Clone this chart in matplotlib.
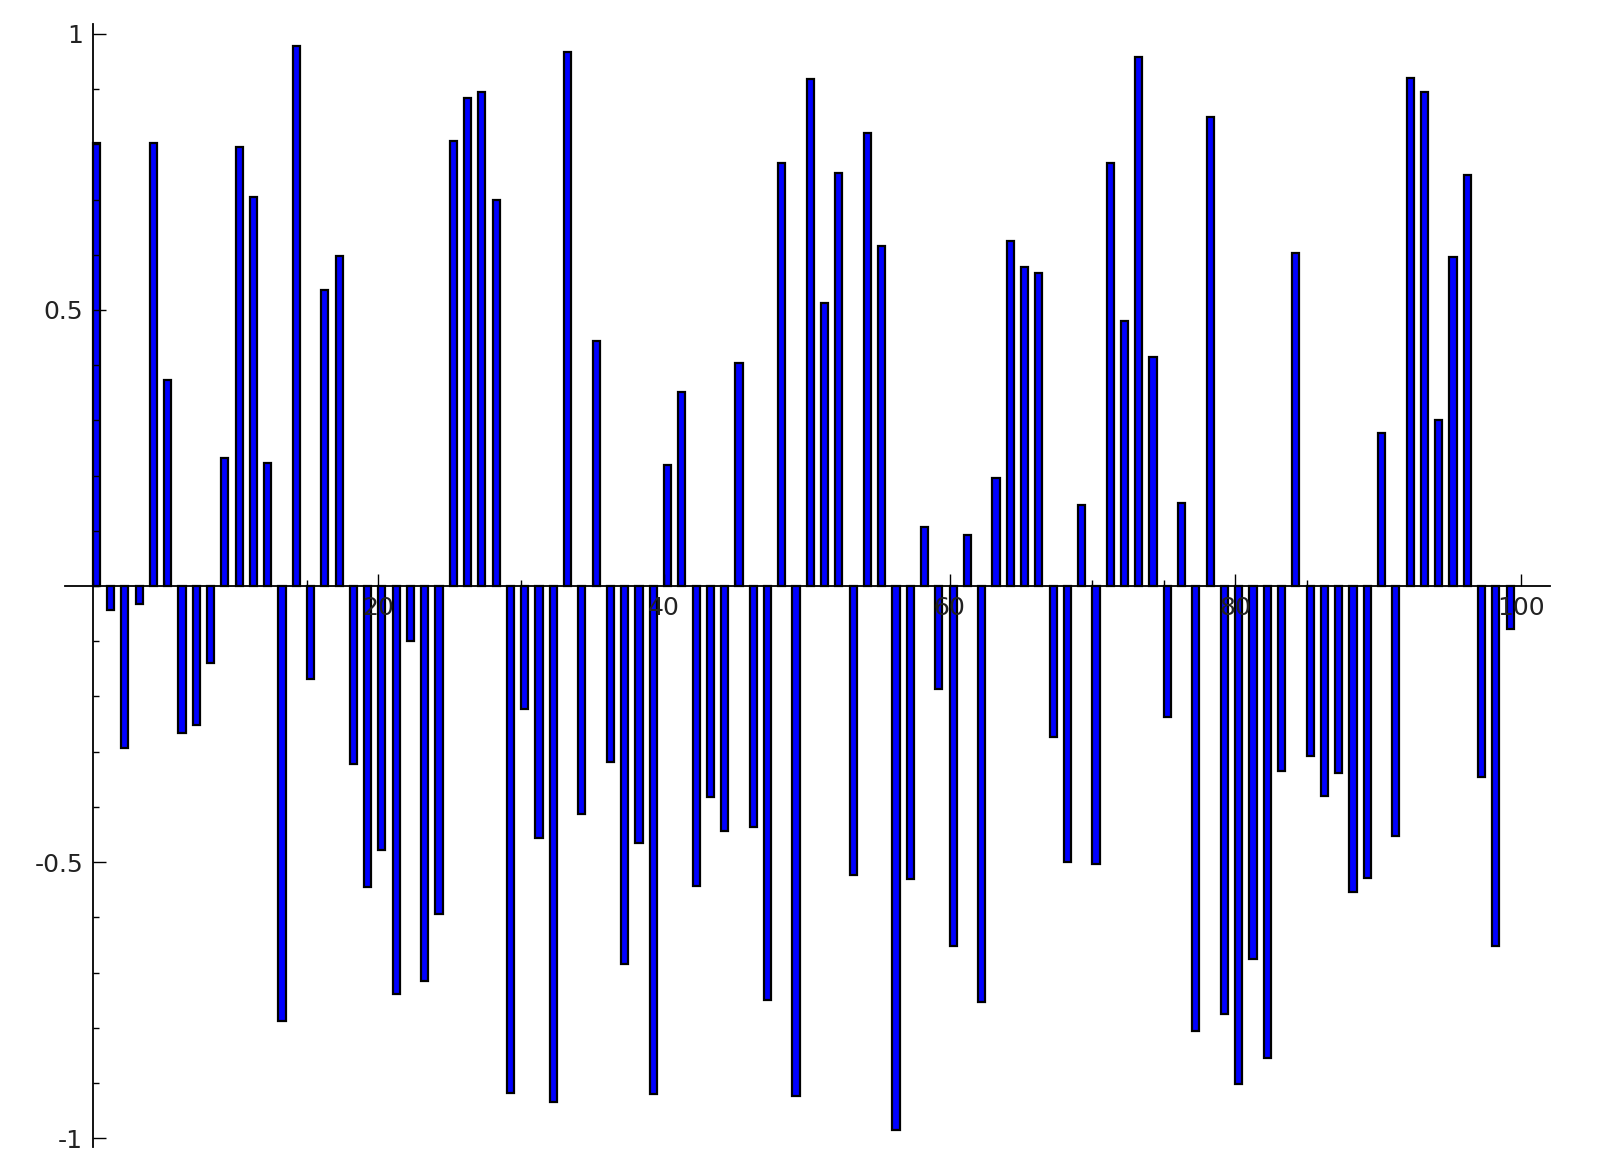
import matplotlib
matplotlib.use("Agg")
import matplotlib.pyplot as plt
from matplotlib.ticker import MultipleLocator, FuncFormatter

# bar heights (one bar per integer 0..99)
values = [
    0.802, -0.043, -0.293, -0.033, 0.802, 0.374, -0.267, -0.252, -0.139, 0.231,
    0.796, 0.704, 0.222, -0.787, 0.978, -0.169, 0.537, 0.598, -0.322, -0.546,
    -0.478, -0.739, -0.100, -0.715, -0.594, 0.806, 0.883, 0.894, 0.700, -0.919,
    -0.222, -0.457, -0.935, 0.967, -0.413, 0.443, -0.319, -0.685, -0.465, -0.920,
    0.219, 0.352, -0.543, -0.383, -0.444, 0.404, -0.437, -0.750, 0.767, -0.924,
    0.919, 0.513, 0.748, -0.524, 0.820, 0.615, -0.985, -0.531, 0.106, -0.187,
    -0.652, 0.093, -0.754, 0.196, 0.624, 0.578, 0.567, -0.274, -0.500, 0.146,
    -0.504, 0.767, 0.480, 0.959, 0.415, -0.237, 0.150, -0.806, 0.850, -0.776,
    -0.902, -0.676, -0.854, -0.335, 0.604, -0.307, -0.380, -0.339, -0.554, -0.528,
    0.278, -0.452, 0.920, 0.894, 0.300, 0.596, 0.744, -0.346, -0.652, -0.078,
]
positions = list(range(len(values)))
x_ticks = [20, 40, 60, 80, 100]
y_ticks = [-1, -0.5, 0.5, 1]

fig = plt.figure(figsize=(15.98, 11.68), dpi=100)
ax = fig.add_axes([0.0407, 0.018, 0.9293, 0.9615])

ax.bar(positions, values, width=0.5, align="edge",
       color="blue", edgecolor="black", linewidth=1.6, zorder=1)

ax.set_xlim(-1.94, 102.05)
ax.set_ylim(-1.016, 1.018)

# sage style axes crossing at the origin
for side in ["top", "right"]:
    ax.spines[side].set_visible(False)
ax.spines["left"].set_position(("data", 0))
ax.spines["bottom"].set_position(("data", 0))
for side in ["left", "bottom"]:
    ax.spines[side].set_linewidth(1.3)
    ax.spines[side].set_zorder(3)

ax.set_xticks(x_ticks)
ax.set_yticks(y_ticks)
ax.xaxis.set_minor_locator(MultipleLocator(5))
ax.yaxis.set_minor_locator(MultipleLocator(0.1))

def fmt(v, pos):
    if float(v).is_integer():
        return "%d" % v
    return "%g" % v

ax.xaxis.set_major_formatter(FuncFormatter(fmt))
ax.yaxis.set_major_formatter(FuncFormatter(fmt))

ax.tick_params(which="both", direction="in", width=1.0, colors="black",
               labelcolor="#222222")
ax.tick_params(which="major", length=9, labelsize=18)
ax.tick_params(which="minor", length=4.5)
ax.tick_params(axis="x", pad=7)
ax.tick_params(axis="y", pad=7)

fig.savefig("out.png", dpi=100)
